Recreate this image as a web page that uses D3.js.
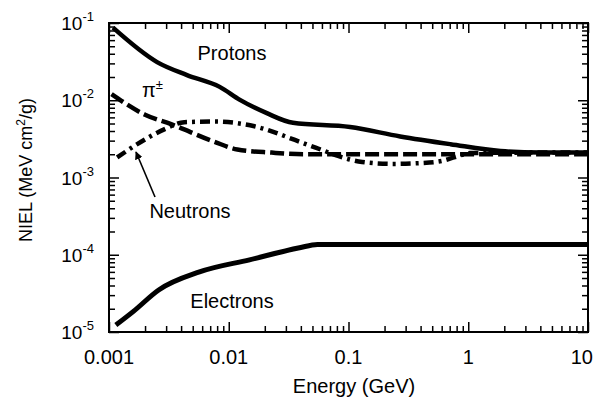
<!DOCTYPE html>
<html>
<head>
<meta charset="utf-8">
<script src="https://cdn.jsdelivr.net/npm/d3@7"></script>
<style>
  body { margin: 0; background: #fff; }
  svg { display: block; font-family: "Liberation Sans", Arial, Helvetica, sans-serif; }
</style>
</head>
<body>
<div id="chart"></div>
<script>
// axis ticks
const xDecades = [0.001, 0.01, 0.1, 1, 10];
const xLabels = ["0.001", "0.01", "0.1", "1", "10"];
const yDecades = [1e-5, 1e-4, 1e-3, 1e-2, 1e-1];
const yExponents = ["-5", "-4", "-3", "-2", "-1"];

// curves (energy in GeV, NIEL in MeV cm2/g)
const protonE = [0.00108, 0.00252, 0.00448, 0.0084, 0.0124, 0.0208, 0.0344, 0.103, 0.27, 0.71, 1.86, 4, 10];
const protonNiel = [0.087, 0.0312, 0.0212, 0.0149, 0.0101, 0.0068, 0.0051, 0.0045, 0.0034, 0.0027, 0.0022, 0.0021, 0.0021];

const pionE = [0.00105, 0.002, 0.0033, 0.0076, 0.0118, 0.0228, 0.043, 0.2, 1, 10];
const pionNiel = [0.012, 0.0065, 0.0049, 0.0029, 0.0023, 0.0021, 0.002, 0.002, 0.002, 0.002];

const neutronE = [0.00117, 0.00172, 0.00289, 0.00425, 0.0076, 0.0164, 0.0357, 0.0459, 0.0601, 0.0817, 0.13, 0.231, 0.411, 0.604, 0.775, 1.035, 3, 10];
const neutronNiel = [0.00182, 0.0027, 0.0042, 0.0052, 0.0053, 0.0046, 0.00306, 0.00264, 0.00227, 0.0019, 0.00159, 0.0015, 0.00154, 0.00164, 0.00184, 0.00207, 0.0021, 0.0021];

const electronE = [0.00114, 0.0016, 0.0026, 0.0057, 0.0149, 0.039, 0.055, 0.2, 1, 10];
const electronNiel = [1.23e-5, 1.85e-5, 3.5e-5, 6.0e-5, 8.6e-5, 1.23e-4, 1.36e-4, 1.36e-4, 1.36e-4, 1.36e-4];

const W = 594, H = 403;
const margin = { top: 23, right: 6, bottom: 71, left: 109 };
const width = W - margin.left - margin.right;
const height = H - margin.top - margin.bottom;

const svg = d3.select("#chart").append("svg")
  .attr("width", W)
  .attr("height", H);

const g = svg.append("g")
  .attr("transform", `translate(${margin.left},${margin.top})`);

const x = d3.scaleLog().domain([0.001, 10]).range([0, width]);
const y = d3.scaleLog().domain([1e-5, 1e-1]).range([height, 0]);

// minor tick values (2..9 in each decade)
const xMinor = [];
xDecades.slice(0, -1).forEach(d => { for (let k = 2; k <= 9; k++) xMinor.push(d * k); });
const yMinor = [];
yDecades.slice(0, -1).forEach(d => { for (let k = 2; k <= 9; k++) yMinor.push(d * k); });

// inward ticks on all four sides
function tickAxis(axis, values, size, transform) {
  const a = g.append("g")
    .attr("transform", transform)
    .call(axis.tickValues(values).tickSize(size).tickFormat(""));
  a.select(".domain").remove();
  a.selectAll("line").attr("stroke", "#000").attr("stroke-width", 1.5);
  return a;
}
tickAxis(d3.axisBottom(x), xDecades, -10, `translate(0,${height})`);
tickAxis(d3.axisBottom(x), xMinor, -6, `translate(0,${height})`);
tickAxis(d3.axisTop(x), xDecades, -10, "translate(0,0)");
tickAxis(d3.axisTop(x), xMinor, -6, "translate(0,0)");
tickAxis(d3.axisLeft(y), yDecades, -10, "translate(0,0)");
tickAxis(d3.axisLeft(y), yMinor, -6, "translate(0,0)");
tickAxis(d3.axisRight(y), yDecades, -10, `translate(${width},0)`);
tickAxis(d3.axisRight(y), yMinor, -6, `translate(${width},0)`);

// frame
g.append("rect")
  .attr("width", width)
  .attr("height", height)
  .attr("fill", "none")
  .attr("stroke", "#000")
  .attr("stroke-width", 2);

// x tick labels
g.selectAll(".xlab")
  .data(xDecades)
  .enter()
  .append("text")
  .attr("class", "xlab")
  .attr("x", (d, i) => i === xDecades.length - 1 ? x(d) + 5 : x(d))
  .attr("y", height + 32)
  .attr("text-anchor", (d, i) => i === xDecades.length - 1 ? "end" : "middle")
  .style("font-size", "20px")
  .text((d, i) => xLabels[i]);

// y tick labels: 10 with superscript exponent
const ylab = g.selectAll(".ylab")
  .data(yDecades)
  .enter()
  .append("text")
  .attr("class", "ylab")
  .attr("x", -15)
  .attr("y", d => y(d) + 7)
  .attr("text-anchor", "end")
  .style("font-size", "19px");
ylab.append("tspan").text("10");
ylab.append("tspan")
  .attr("dy", -9)
  .style("font-size", "13px")
  .text((d, i) => yExponents[i]);

// axis titles
g.append("text")
  .attr("x", 245)
  .attr("y", height + 61)
  .attr("text-anchor", "middle")
  .style("font-size", "20px")
  .text("Energy (GeV)");

const yt = svg.append("text")
  .attr("transform", "translate(32,170) rotate(-90)")
  .attr("text-anchor", "middle")
  .style("font-size", "18px");
yt.append("tspan").text("NIEL (MeV cm");
yt.append("tspan").attr("dy", -7).style("font-size", "12px").text("2");
yt.append("tspan").attr("dy", 7).text("/g)");

// curves
const line = d3.line()
  .x(d => x(d[0]))
  .y(d => y(d[1]))
  .curve(d3.curveMonotoneX);

const series = [
  { e: protonE, v: protonNiel, w: 4.5, dash: null },
  { e: electronE, v: electronNiel, w: 5, dash: null },
  { e: pionE, v: pionNiel, w: 4.5, dash: "14,5" },
  { e: neutronE, v: neutronNiel, w: 4.5, dash: "10,5,3,5" }
];

series.forEach(s => {
  g.append("path")
    .datum(d3.zip(s.e, s.v))
    .attr("d", line)
    .attr("fill", "none")
    .attr("stroke", "#000")
    .attr("stroke-width", s.w)
    .attr("stroke-dasharray", s.dash);
});

// curve labels
g.append("text")
  .attr("x", 123).attr("y", 37)
  .attr("text-anchor", "middle")
  .style("font-size", "20px")
  .text("Protons");

g.append("text")
  .attr("x", 123).attr("y", 285)
  .attr("text-anchor", "middle")
  .style("font-size", "20px")
  .text("Electrons");

g.append("text")
  .attr("x", 81).attr("y", 195)
  .attr("text-anchor", "middle")
  .style("font-size", "20px")
  .text("Neutrons");

const pi = g.append("text")
  .attr("x", 33).attr("y", 74)
  .style("font-size", "20px");
pi.append("tspan").text("\u03c0");
pi.append("tspan").attr("dy", -8).style("font-size", "13px").text("\u00b1");

// arrow to neutron curve
svg.append("defs").append("marker")
  .attr("id", "head")
  .attr("viewBox", "0 0 10 10")
  .attr("refX", 9).attr("refY", 5)
  .attr("markerWidth", 5).attr("markerHeight", 5)
  .attr("orient", "auto")
  .append("path")
  .attr("d", "M0,0L10,5L0,10Z")
  .attr("fill", "#000");

g.append("line")
  .attr("x1", 46).attr("y1", 174)
  .attr("x2", 27).attr("y2", 129)
  .attr("stroke", "#000")
  .attr("stroke-width", 1.6)
  .attr("marker-end", "url(#head)");
</script>
</body>
</html>
